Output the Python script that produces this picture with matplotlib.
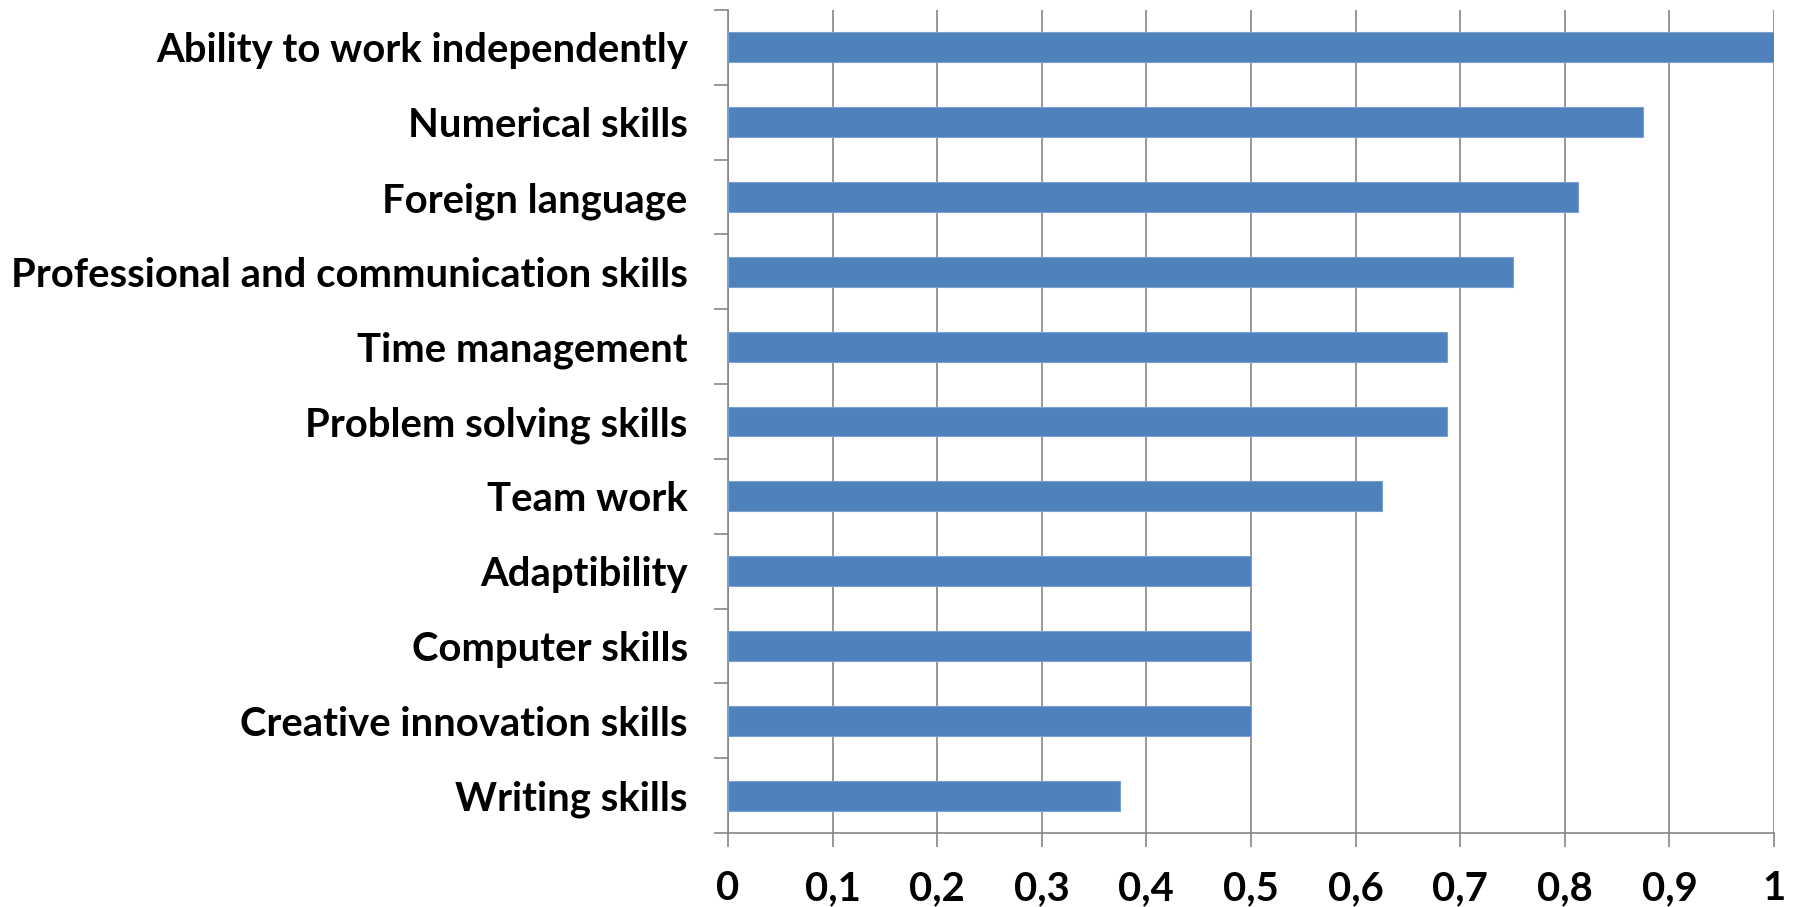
import matplotlib.pyplot as plt
from matplotlib.ticker import FuncFormatter

skills = ['Ability to work independently', 'Numerical skills', 'Foreign language',
          'Professional and communication skills', 'Time management',
          'Problem solving skills', 'Team work', 'Adaptibility', 'Computer skills',
          'Creative innovation skills', 'Writing skills']
scores = [1.0, 0.875, 0.8125, 0.75, 0.6875, 0.6875, 0.625, 0.5, 0.5, 0.5, 0.375]
xticks = [0, 0.1, 0.2, 0.3, 0.4, 0.5, 0.6, 0.7, 0.8, 0.9, 1.0]

plt.rcParams['font.family'] = ['Lato', 'DejaVu Sans']

fig = plt.figure(figsize=(18.02, 9.07), dpi=100)
ax = fig.add_axes([728 / 1802, 1 - 833 / 907, (1774 - 728) / 1802, (833 - 10) / 907])

n = len(skills)
pos = [n - 1 - i for i in range(n)]  # first skill at the top
ax.barh(pos, scores, height=0.4, color='#4F81BD', edgecolor='#7BA0CD', linewidth=0.8, zorder=3)

ax.set_xlim(0, 1)
ax.set_ylim(-0.5, n - 0.5)
ax.set_xticks(xticks)
ax.xaxis.set_major_formatter(FuncFormatter(lambda v, p: ('%g' % round(v, 1)).replace('.', ',')))

# category labels centred, tick marks at boundaries
ax.set_yticks(pos)
ax.set_yticklabels(skills)
ax.set_yticks([i - 0.5 for i in range(n + 1)], minor=True)
ax.tick_params(axis='y', which='major', length=0, pad=29, labelsize=28.8)
ax.tick_params(axis='y', which='minor', length=10, width=1.2, color='#868686')
ax.tick_params(axis='x', length=10, width=1.2, color='#868686', pad=17, labelsize=28.8)
for lab in ax.get_xticklabels() + ax.get_yticklabels():
    lab.set_fontweight('bold')

ax.grid(axis='x', color='#868686', linewidth=1.2, zorder=0)
for s in ['top', 'right']:
    ax.spines[s].set_visible(False)
for s in ['left', 'bottom']:
    ax.spines[s].set_color('#868686')
    ax.spines[s].set_linewidth(1.2)

plt.savefig('out.png', dpi=100)
